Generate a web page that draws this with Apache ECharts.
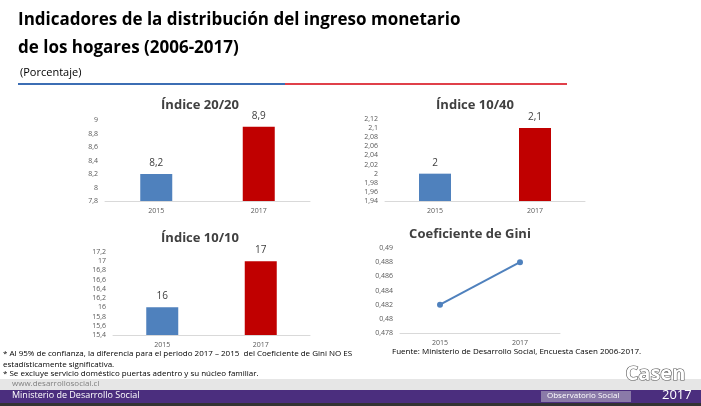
<!DOCTYPE html><html><head><meta charset="utf-8"><script src="https://cdn.jsdelivr.net/npm/echarts@6/dist/echarts.min.js"></script>
<style>body{margin:0}#c{width:701px;height:406px}</style></head><body><div id="c"></div><script>
const years=['2015','2017'];
const idx2020=[8.2,8.9];
const idx1040=[2,2.1];
const idx1010=[16,17];
const gini=[0.482,0.488];
const blue='#4f81bd', red='#c00000';
const ch=echarts.init(document.getElementById('c'));
const F='"Open Sans", sans-serif';
function fmt(v){return String(+v.toFixed(3)).replace('.',',');}
const grids=[
 {left:105,width:205,top:120,height:81},
 {left:385,width:200,top:119,height:82},
 {left:113,width:197,top:252,height:83},
 {left:400,width:160,top:248,height:85}];
const yset=[[7.8,9,0.2],[1.94,2.12,0.02],[15.4,17.2,0.2],[0.478,0.49,0.002]];
const titles=[['Índice 20/20',200,105],['Índice 10/40',475,105],['Índice 10/10',200,238],['Coeficiente de Gini',470,234]];
const xAxis=grids.map((g,i)=>({gridIndex:i,type:'category',data:years,axisLine:{lineStyle:{color:'#d9d9d9'}},axisTick:{show:false},axisLabel:{fontSize:7,color:'#595959',fontFamily:F,margin:6}}));
const yAxis=yset.map((y,i)=>({gridIndex:i,type:'value',min:y[0],max:y[1],interval:y[2],axisLine:{show:false},axisTick:{show:false},splitLine:{show:false},axisLabel:{fontSize:7,color:'#595959',fontFamily:F,formatter:fmt,margin:7}}));
function bars(d,i){return {type:'bar',xAxisIndex:i,yAxisIndex:i,barWidth:32,data:d.map((v,k)=>({value:v,itemStyle:{color:k?red:blue}})),label:{show:true,position:'top',fontSize:10,color:'#404040',fontFamily:F,formatter:p=>fmt(p.value),distance:6}};}
const g=[
 {type:'text',left:18,top:12,style:{text:'Indicadores de la distribución del ingreso monetario',font:'bold 17px '+F,fill:'#000'}},
 {type:'text',left:18,top:40,style:{text:'de los hogares (2006-2017)',font:'bold 17px '+F,fill:'#000'}},
 {type:'text',left:20,top:67,style:{text:'(Porcentaje)',font:'11px '+F,fill:'#000'}},
 {type:'rect',shape:{x:18,y:83,width:267,height:2},style:{fill:'#3c6eb4'}},
 {type:'rect',shape:{x:285,y:83,width:282,height:2},style:{fill:'#e0404a'}},
 {type:'text',left:3,top:348,style:{text:'* Al 95% de confianza, la diferencia para el periodo 2017 – 2015  del Coeficiente de Gini NO ES\nestadísticamente significativa.',font:'8px '+F,fill:'#000',lineHeight:11}},
 {type:'text',left:3,top:370,style:{text:'* Se excluye servicio doméstico puertas adentro y su núcleo familiar.',font:'8px '+F,fill:'#000'}},
 {type:'text',left:392,top:348,style:{text:'Fuente: Ministerio de Desarrollo Social, Encuesta Casen 2006-2017.',font:'8px '+F,fill:'#000'}},
 {type:'rect',shape:{x:0,y:379,width:701,height:11},style:{fill:'#e6e6e6'}},
 {type:'text',left:12,top:380,style:{text:'www.desarrollosocial.cl',font:'8px '+F,fill:'#808080'}},
 {type:'rect',shape:{x:0,y:390,width:701,height:13},style:{fill:'#4b2e7e'}},
 {type:'rect',shape:{x:0,y:403,width:701,height:3},style:{fill:'#333'}},
 {type:'text',left:12,top:391,style:{text:'Ministerio de Desarrollo Social',font:'9px '+F,fill:'#fff'}},
 {type:'rect',shape:{x:541,y:391,width:90,height:11},style:{fill:'#8a7aa8'}},
 {type:'text',left:547,top:392,style:{text:'Observatorio Social',font:'8px '+F,fill:'#fff'}},
 {type:'text',left:625,top:364,z:10,style:{text:'Casen',font:'bold 20px '+F,fill:'#fff',stroke:'#555',lineWidth:1.2}},
 {type:'text',left:662,top:389,style:{text:'2017',font:'13px '+F,fill:'#fff'}}
];
titles.forEach(t=>g.push({type:'text',x:t[1],y:t[2],style:{text:t[0],font:'bold 13px '+F,fill:'#404040',textAlign:'center',textVerticalAlign:'middle'}}));
ch.setOption({animation:false,grid:grids,xAxis,yAxis,graphic:g,series:[bars(idx2020,0),bars(idx1040,1),bars(idx1010,2),
 {type:'line',xAxisIndex:3,yAxisIndex:3,data:gini,symbol:'circle',symbolSize:6,lineStyle:{color:blue,width:2},itemStyle:{color:blue}}]});
</script></body></html>
